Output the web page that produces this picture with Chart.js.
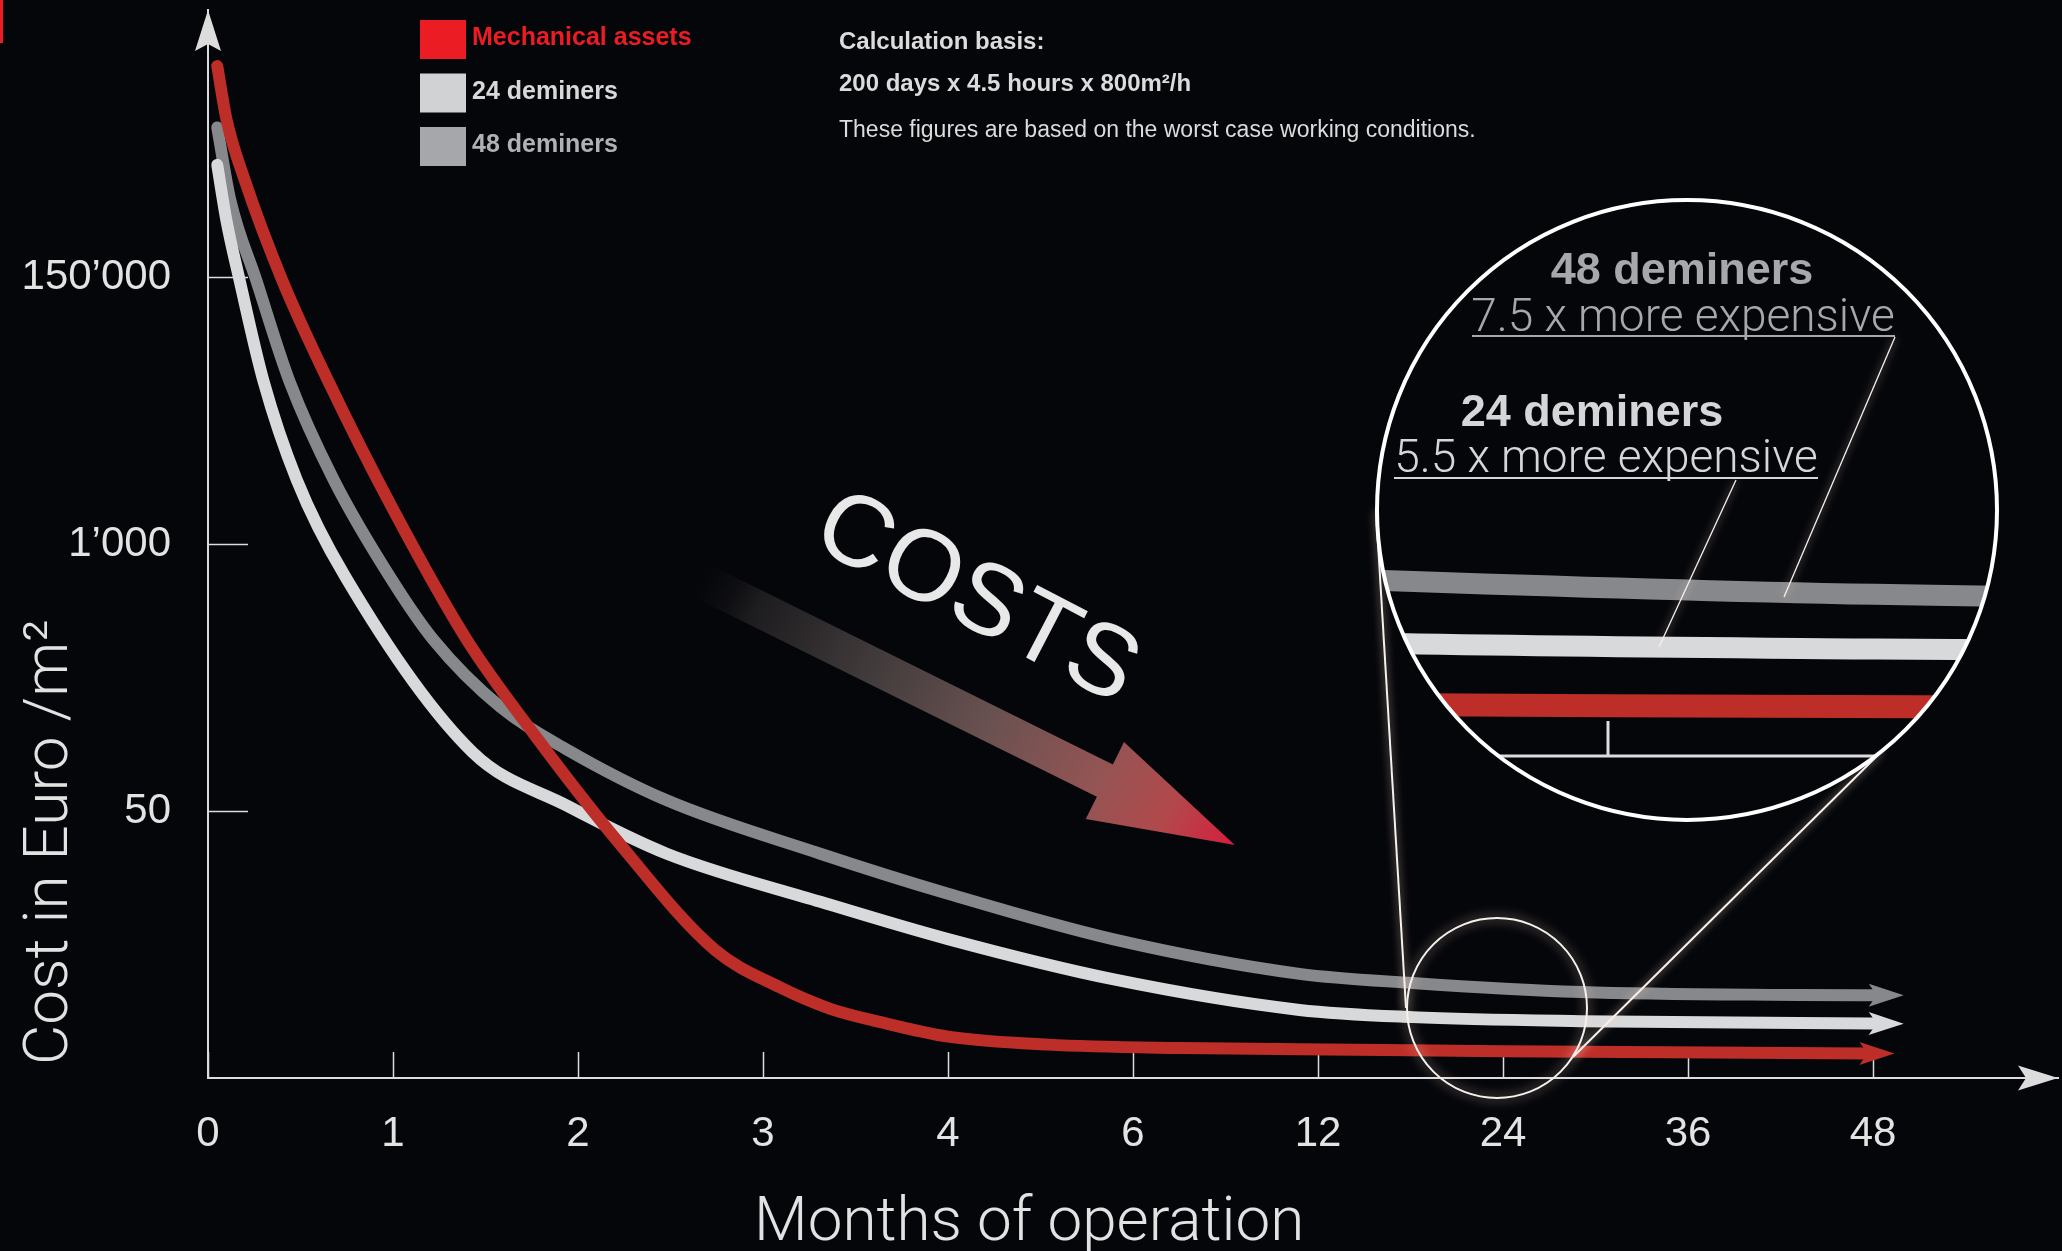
<!DOCTYPE html>
<html>
<head>
<meta charset="utf-8">
<title>Cost in Euro /m² by months of operation</title>
<script src="https://cdn.jsdelivr.net/npm/chart.js@4.4.1/dist/chart.umd.min.js"></script>
<style>
  html, body { margin: 0; padding: 0; background: #05060a; }
  #wrap { width: 2062px; height: 1251px; position: relative; }
</style>
</head>
<body>
<div id="wrap"><canvas id="costChart"></canvas></div>
<script>
// axis steps are evenly spaced, so values are stored as positions on each axis
const months = ['0', '1', '2', '3', '4', '6', '12', '24', '36', '48'];
const costLevels = [null, '50', '1’000', '150’000'];

// [month position, cost level position]
const mechanicalAssets = [
  [0.05, 3.79], [0.10, 3.59], [0.20, 3.36], [0.40, 2.99], [0.65, 2.61], [1.00, 2.13],
  [1.40, 1.64], [1.76, 1.29], [2.21, 0.89], [2.74, 0.48], [3.09, 0.34], [3.36, 0.26],
  [3.63, 0.21], [4.00, 0.155], [4.54, 0.125], [5.25, 0.112], [5.90, 0.108], [7.00, 0.100],
  [8.97, 0.092]
];
const deminers24 = [
  [0.05, 3.42], [0.10, 3.21], [0.17, 2.99], [0.30, 2.61], [0.48, 2.24], [0.74, 1.88],
  [1.43, 1.22], [1.94, 1.02], [2.48, 0.84], [3.31, 0.66], [4.00, 0.52], [4.89, 0.37],
  [5.90, 0.255], [6.51, 0.228], [7.42, 0.213], [8.60, 0.206], [9.02, 0.204]
];
const deminers48 = [
  [0.05, 3.56], [0.12, 3.29], [0.26, 2.99], [0.44, 2.61], [0.68, 2.24], [0.99, 1.87],
  [1.22, 1.64], [1.58, 1.39], [1.94, 1.23], [2.48, 1.04], [3.31, 0.84], [4.00, 0.69],
  [4.89, 0.52], [5.90, 0.39], [6.51, 0.356], [7.42, 0.322], [8.60, 0.311], [9.02, 0.310]
];

const seriesNames = ['Mechanical assets', '24 deminers', '48 deminers'];
const calcNotes = ['Calculation basis:', '200 days x 4.5 hours x 800m²/h',
  'These figures are based on the worst case working conditions.'];

const BG = '#05060a';
const AXIS = '#dcdcdc';
const SANS = '"Liberation Sans", Arial, Helvetica, sans-serif';
const LIGHT = 'Roboto, "Liberation Sans", sans-serif';
const lineColors = ['#be2e28', '#d8d9db', '#87888b'];
const swatchColors = ['#ec1c24', '#d1d2d4', '#a6a7aa'];
const legendText = ['#ec1c24', '#d8d8d9', '#b0b1b4'];

function arrowHead(ctx, x, y, angle, len, half, back, color) {
  ctx.save();
  ctx.translate(x, y);
  ctx.rotate(angle);
  ctx.beginPath();
  ctx.moveTo(len, 0);
  ctx.lineTo(-back, -half);
  ctx.lineTo(0, 0);
  ctx.lineTo(-back, half);
  ctx.closePath();
  ctx.fillStyle = color;
  ctx.fill();
  ctx.restore();
}

function glowLine(ctx, x1, y1, x2, y2, w) {
  ctx.save();
  ctx.strokeStyle = '#f4f1ee';
  ctx.lineWidth = w;
  ctx.shadowColor = 'rgba(255,225,205,0.8)';
  ctx.shadowBlur = 9;
  ctx.beginPath();
  ctx.moveTo(x1, y1);
  ctx.lineTo(x2, y2);
  ctx.stroke();
  ctx.restore();
}

const decorations = {
  id: 'decorations',
  beforeDraw(chart) {
    const ctx = chart.ctx;
    ctx.save();
    ctx.fillStyle = BG;
    ctx.fillRect(0, 0, chart.width, chart.height);
    ctx.fillStyle = '#ec1c24';
    ctx.fillRect(0, 0, 3, 43);
    ctx.restore();
  },
  beforeDatasetsDraw(chart) {
    const ctx = chart.ctx;
    ctx.save();

    // falling "COSTS" arrow
    ctx.save();
    ctx.translate(690, 575);
    ctx.rotate(Math.atan2(270, 545));
    const g = ctx.createLinearGradient(0, 0, 608, 0);
    g.addColorStop(0, 'rgba(5,6,10,0)');
    g.addColorStop(0.12, '#1d1c1f');
    g.addColorStop(0.35, '#443d3d');
    g.addColorStop(0.55, '#6a5151');
    g.addColorStop(0.75, '#945454');
    g.addColorStop(0.88, '#b2484b');
    g.addColorStop(1, '#d81d3e');
    ctx.fillStyle = g;
    ctx.beginPath();
    ctx.moveTo(0, -18);
    ctx.lineTo(463, -18);
    ctx.lineTo(463, -43);
    ctx.lineTo(608, 0);
    ctx.lineTo(463, 43);
    ctx.lineTo(463, 18);
    ctx.lineTo(0, 18);
    ctx.closePath();
    ctx.fill();
    ctx.restore();

    ctx.save();
    ctx.translate(976, 600);
    ctx.rotate(27.5 * Math.PI / 180);
    ctx.font = '101px ' + SANS;
    ctx.textAlign = 'center';
    ctx.textBaseline = 'middle';
    ctx.fillStyle = '#e8e8e8';
    ctx.fillText('COSTS', 0, 0);
    ctx.restore();

    // legend
    ctx.font = 'bold 25px ' + SANS;
    ctx.textBaseline = 'alphabetic';
    chart.data.datasets.forEach((ds, i) => {
      const top = 20 + i * 53.5;
      ctx.fillStyle = swatchColors[i];
      ctx.fillRect(420, top, 46, 39);
      ctx.fillStyle = legendText[i];
      ctx.fillText(ds.label, 472, top + 25);
    });

    // calculation notes
    ctx.fillStyle = '#dcdcdc';
    ctx.font = 'bold 24px ' + SANS;
    ctx.fillText(calcNotes[0], 839, 49);
    ctx.fillText(calcNotes[1], 839, 91);
    ctx.font = '23px ' + SANS;
    ctx.fillText(calcNotes[2], 839, 137);

    // axis titles
    ctx.fillStyle = '#e2e2e2';
    ctx.font = '300 62px ' + LIGHT;
    ctx.fillText('Months of operation', 754, 1240);
    ctx.save();
    ctx.translate(67, 1065);
    ctx.rotate(-Math.PI / 2);
    ctx.font = '300 62px ' + LIGHT;
    ctx.fillText('Cost in Euro /m²', 0, 0);
    ctx.restore();

    ctx.restore();
  },
  afterDatasetsDraw(chart) {
    const ctx = chart.ctx;
    const xs = chart.scales.x, ys = chart.scales.y;
    const area = chart.chartArea;

    // axis arrows
    arrowHead(ctx, area.right - 32, ys.getPixelForValue(0), 0, 32, 12.5, 8, AXIS);
    arrowHead(ctx, xs.getPixelForValue(0), area.top + 34, -Math.PI / 2, 34, 13, 7, AXIS);

    // arrow tips at the end of each curve
    chart.data.datasets.forEach((ds, i) => {
      const pts = chart.getDatasetMeta(i).data;
      const a = pts[pts.length - 1], b = pts[pts.length - 2];
      const ang = Math.atan2(a.y - b.y, a.x - b.x);
      arrowHead(ctx, a.x, a.y, ang, 27, 11.5, 8, lineColors[i]);
    });

    // magnifier lens around 24 months
    const ax = xs.getPixelForValue(7), ay = ys.getPixelForValue(0);
    const cx = 1687, cy = 510, r = 310;
    const ix = 1608, iy = 756, kx = 3.44, ky = 1.88;
    const T = (x, y) => [ix + (x - ax) * kx, iy + (y - ay) * ky];

    const sx = ax - 6, sy = 1008, sr = 90;
    glowLine(ctx, 1376, 510, 1406, 1008, 2);
    glowLine(ctx, 1882, 751, 1573, 1057, 2);
    ctx.save();
    ctx.strokeStyle = '#f4f1ee';
    ctx.lineWidth = 2;
    ctx.shadowColor = 'rgba(255,225,205,0.85)';
    ctx.shadowBlur = 12;
    ctx.beginPath();
    ctx.arc(sx, sy, sr, 0, Math.PI * 2);
    ctx.stroke();
    ctx.restore();

    ctx.save();
    ctx.beginPath();
    ctx.arc(cx, cy, r, 0, Math.PI * 2);
    ctx.fillStyle = BG;
    ctx.fill();
    ctx.clip();
    // axis and 24-month tick, magnified
    ctx.strokeStyle = AXIS;
    ctx.lineWidth = 3;
    ctx.beginPath();
    ctx.moveTo(cx - r, iy);
    ctx.lineTo(cx + r, iy);
    ctx.moveTo(ix, iy);
    ctx.lineTo(ix, iy - 35);
    ctx.stroke();
    for (let i = chart.data.datasets.length - 1; i >= 0; i--) {
      const pts = chart.getDatasetMeta(i).data;
      ctx.strokeStyle = lineColors[i];
      ctx.lineWidth = i === 0 ? 23 : 21;
      ctx.beginPath();
      ctx.moveTo(...T(pts[0].x, pts[0].y));
      for (let k = 1; k < pts.length; k++) {
        const p = pts[k - 1], q = pts[k];
        ctx.bezierCurveTo(...T(p.cp2x, p.cp2y), ...T(q.cp1x, q.cp1y), ...T(q.x, q.y));
      }
      ctx.stroke();
    }
    ctx.restore();

    // lens annotations
    ctx.save();
    ctx.textAlign = 'center';
    ctx.textBaseline = 'alphabetic';
    ctx.font = 'bold 45px ' + SANS;
    ctx.fillStyle = '#a7a8ab';
    ctx.fillText(seriesNames[2], 1682, 284);
    ctx.fillStyle = '#d5d6d8';
    ctx.fillText(seriesNames[1], 1592, 426);
    ctx.font = '300 46px ' + LIGHT;
    ctx.fillStyle = '#a7a8ab';
    ctx.fillText('7.5 x more expensive', 1683, 331);
    ctx.fillRect(1472, 335, 423, 2);
    ctx.fillStyle = '#d5d6d8';
    ctx.fillText('5.5 x more expensive', 1606, 472);
    ctx.fillRect(1394, 477, 424, 2);
    ctx.restore();
    glowLine(ctx, 1895, 337, 1784, 597, 1.3);
    glowLine(ctx, 1736, 480, 1659, 647, 1.3);

    ctx.save();
    ctx.strokeStyle = '#ffffff';
    ctx.lineWidth = 4;
    ctx.beginPath();
    ctx.arc(cx, cy, r, 0, Math.PI * 2);
    ctx.stroke();
    ctx.restore();
  }
};

const series = [mechanicalAssets, deminers24, deminers48];

new Chart(document.getElementById('costChart'), {
  type: 'line',
  data: {
    datasets: series.map((values, i) => ({
      label: seriesNames[i],
      data: values,
      borderColor: lineColors[i],
      borderWidth: 12,
      borderCapStyle: 'round',
      cubicInterpolationMode: 'monotone',
      pointRadius: 0,
      fill: false
    }))
  },
  options: {
    responsive: true,
    maintainAspectRatio: false,
    animation: false,
    events: [],
    layout: { padding: { top: 10, right: 4, left: 0, bottom: 0 } },
    plugins: { legend: { display: false }, tooltip: { enabled: false } },
    scales: {
      x: {
        type: 'linear',
        min: 0,
        max: 10,
        afterFit: s => { s.height = 173; s.paddingLeft = 0; s.paddingRight = 0; },
        border: { color: AXIS, width: 2 },
        grid: { drawOnChartArea: false, tickLength: -26, tickWidth: 1.5, tickColor: AXIS },
        ticks: {
          stepSize: 1,
          autoSkip: false,
          maxRotation: 0,
          padding: 57,
          color: '#e3e3e3',
          font: { family: SANS, size: 42 },
          callback: v => months[v] ?? null
        }
      },
      y: {
        type: 'linear',
        min: 0,
        max: 4,
        afterFit: s => { s.width = 208; s.paddingTop = 0; s.paddingBottom = 0; },
        border: { color: AXIS, width: 2 },
        grid: { drawOnChartArea: false, tickLength: -40, tickWidth: 1.5, tickColor: AXIS },
        ticks: {
          stepSize: 1,
          padding: 77,
          color: '#e3e3e3',
          font: { family: SANS, size: 42 },
          callback: v => costLevels[v] ?? null
        }
      }
    }
  },
  plugins: [decorations]
});
</script>
</body>
</html>
